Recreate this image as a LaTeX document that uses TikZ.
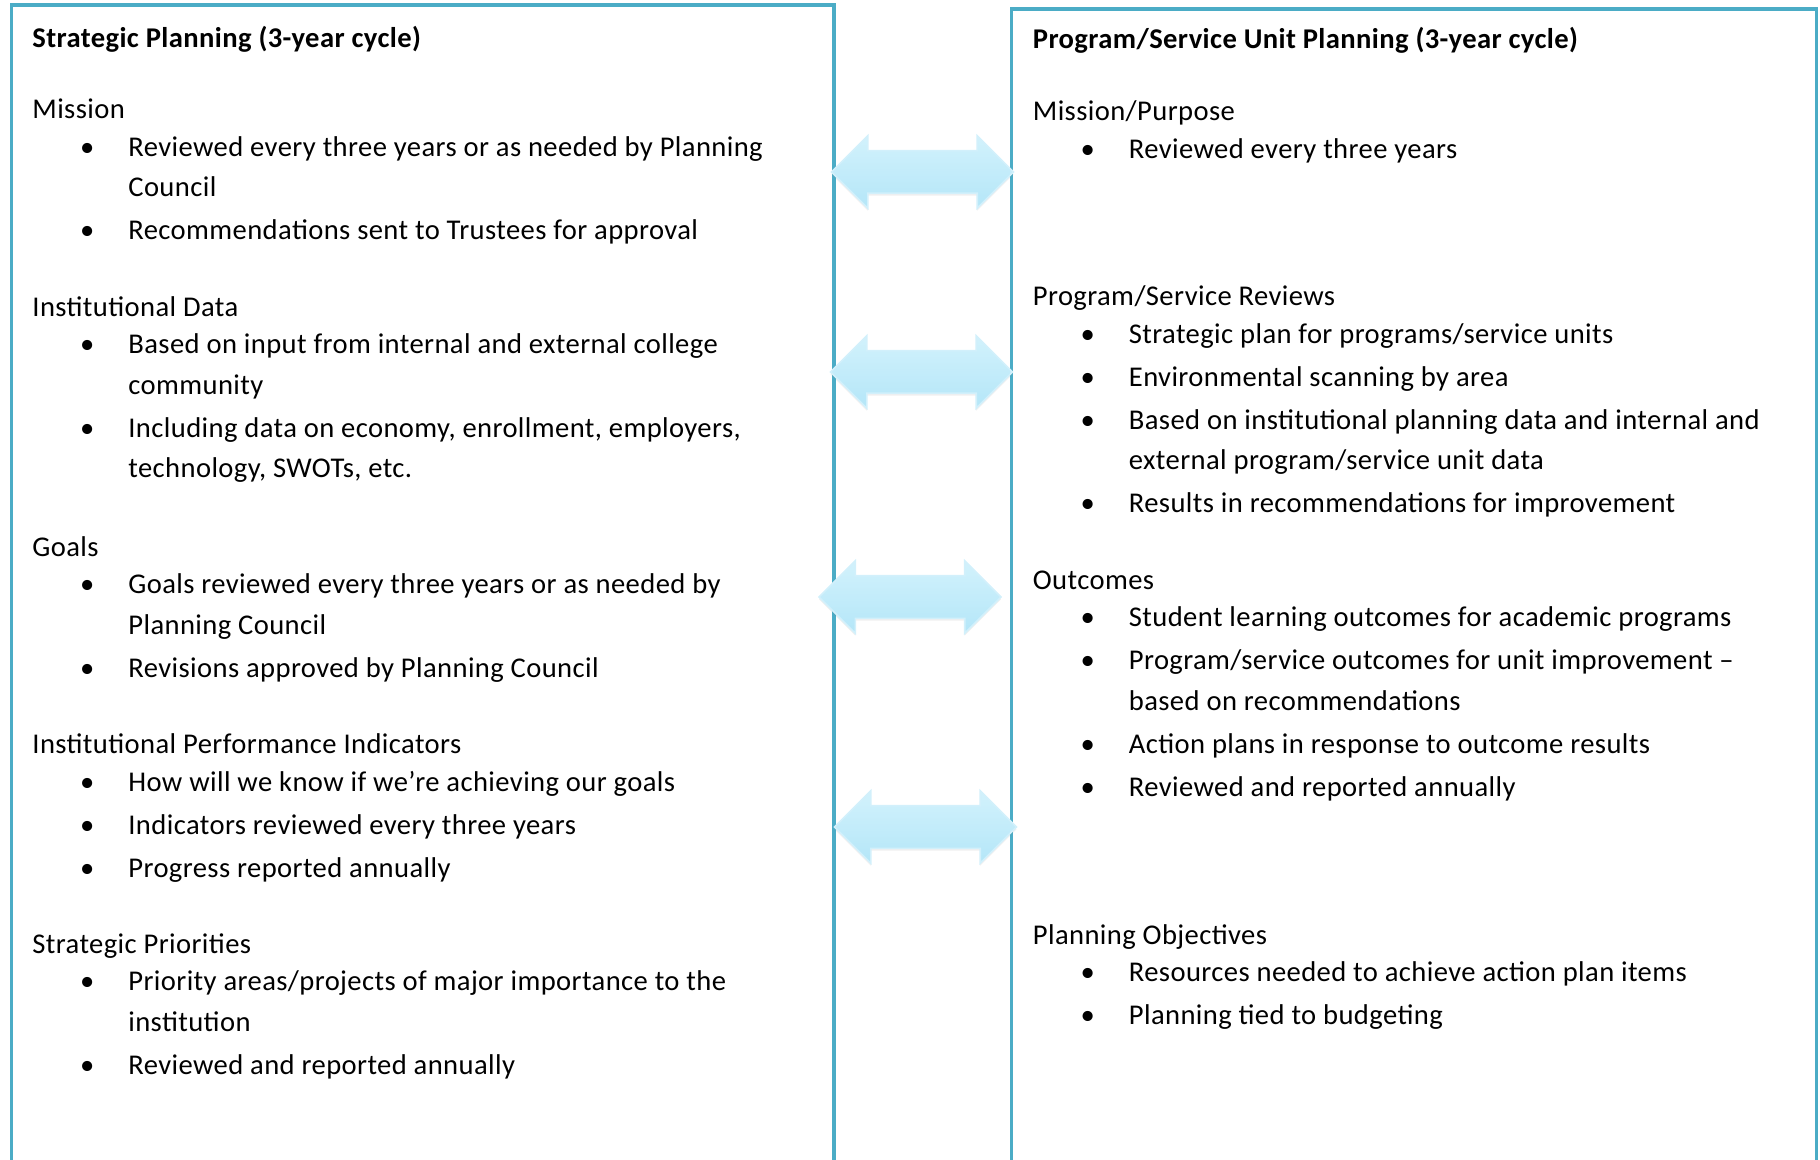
\documentclass[tikz,border=0pt]{standalone}
\usepackage{fontspec}
\setmainfont{Carlito}[LetterSpace=1.4]
\usepackage{xcolor}
\usetikzlibrary{positioning, shapes.arrows, shadows}
\definecolor{frameblue}{HTML}{4BACC6}
\definecolor{arrowtop}{HTML}{D2F2FC}
\definecolor{arrowbot}{HTML}{B4E6F8}
% bullet and hanging indent for the list lines
\newcommand{\itm}{\makebox[48pt][l]{\hspace*{27.4pt}\makebox[0pt]{\textbullet}}}
\newcommand{\cont}{\hspace*{48pt}}
\tikzset{
  frame/.style={draw=frameblue, line width=1.75pt},
  title/.style={anchor=base west, inner sep=0pt, font=\fontsize{14.3}{20.25}\selectfont\bfseries},
  sec/.style={inner sep=0pt, align=left, font=\fontsize{14.3}{20.25}\selectfont},
  link/.style={double arrow, double arrow head extend=7.5pt, minimum height=91pt, inner xsep=0pt, inner ysep=10.25pt,
    top color=arrowtop, bottom color=arrowbot, draw=arrowbot!60, line width=0.8pt,
    drop shadow={shadow xshift=0pt, shadow yshift=-1.2pt, opacity=0.12, fill=gray}}
}

\begin{document}
\begin{tikzpicture}[x=0.5pt, y=-0.5pt]
  \useasboundingbox (0,0) rectangle (1820,1160);
  % the two open frames
  \draw[frame] (11.7,1170) |- (834,5) -- (834,1170);
  \draw[frame] (1011.5,1170) |- (1816.5,9) -- (1816.5,1170);

  % left column
  \node[title] (sptitle) at (32,47.3) {\strut Strategic Planning (3-year cycle)};
  \node[sec, below=15.1pt of sptitle.south west, anchor=north west] (mission) {\strut Mission\\[-1.5pt]
    \itm Reviewed every three years or as needed by Planning\\
    \cont Council\\[1.25pt]
    \itm Recommendations sent to Trustees for approval\strut};
  \node[sec, below=17.5pt of mission.south west, anchor=north west] (instdata) {\strut Institutional Data\\[-1.5pt]
    \itm Based on input from internal and external college\\
    \cont community\\[1.25pt]
    \itm Including data on economy, enrollment, employers,\\
    \cont technology, SWOTs, etc.\strut};
  \node[sec, below=18.7pt of instdata.south west, anchor=north west] (goals) {\strut Goals\\[-1.5pt]
    \itm Goals reviewed every three years or as needed by\\
    \cont Planning Council\\[1.25pt]
    \itm Revisions approved by Planning Council\strut};
  \node[sec, below=17.5pt of goals.south west, anchor=north west] (indicators) {\strut Institutional Performance Indicators\\[-1.5pt]
    \itm How will we know if we’re achieving our goals\\[1.25pt]
    \itm Indicators reviewed every three years\\[1.25pt]
    \itm Progress reported annually\strut};
  \node[sec, below=17.5pt of indicators.south west, anchor=north west] (priorities) {\strut Strategic Priorities\\[-1.5pt]
    \itm Priority areas/projects of major importance to the\\
    \cont institution\\[1.25pt]
    \itm Reviewed and reported annually\strut};

  % right column
  \node[title] (putitle) at (1032.5,49) {\strut Program/Service Unit Planning (3-year cycle)};
  \node[sec, below=15.25pt of putitle.south west, anchor=north west] (purpose) {\strut Mission/Purpose\\[-1.5pt]
    \itm Reviewed every three years\strut};
  \node[sec, below=53pt of purpose.south west, anchor=north west] (reviews) {\strut Program/Service Reviews\\[-1.5pt]
    \itm Strategic plan for programs/service units\\[1.25pt]
    \itm Environmental scanning by area\\[1.25pt]
    \itm Based on institutional planning data and internal and\\
    \cont external program/service unit data\\[1.25pt]
    \itm Results in recommendations for improvement\strut};
  \node[sec, below=17.75pt of reviews.south west, anchor=north west] (outcomes) {\strut Outcomes\\[-1.5pt]
    \itm Student learning outcomes for academic programs\\[1.25pt]
    \itm Program/service outcomes for unit improvement --\\
    \cont based on recommendations\\[1.25pt]
    \itm Action plans in response to outcome results\\[1.25pt]
    \itm Reviewed and reported annually\strut};
  \node[sec, below=53.25pt of outcomes.south west, anchor=north west] (objectives) {\strut Planning Objectives\\[-1.5pt]
    \itm Resources needed to achieve action plan items\\[1.25pt]
    \itm Planning tied to budgeting\strut};

  % two-way links between the columns
  \node[link] (link1) at (922.5,172) {};
  \node[link] (link2) at (921.5,372) {};
  \node[link] (link3) at (910,597) {};
  \node[link] (link4) at (925.5,827) {};
\end{tikzpicture}
\end{document}
